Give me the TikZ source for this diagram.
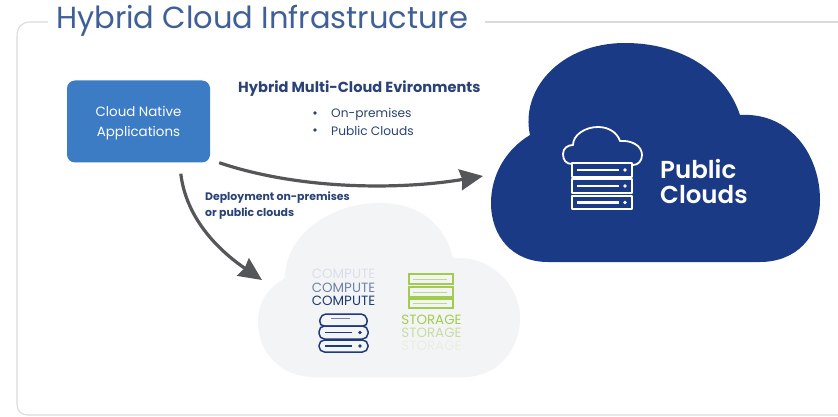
\documentclass[tikz,border=0pt]{standalone}
\usepackage{fontspec}
\setmainfont{Poppins}
\newfontfamily\popmed{Poppins SemiBold}
\usetikzlibrary{arrows.meta}
\definecolor{navy}{HTML}{1B3A86}
\definecolor{inkblue}{HTML}{2A4278}
\definecolor{titleblue}{HTML}{3F5F98}
\definecolor{boxblue}{HTML}{3B7CC4}
\definecolor{arrowgray}{HTML}{55565A}
\definecolor{framegray}{HTML}{DADBDD}
\definecolor{cloudgray}{HTML}{F3F4F5}
\definecolor{limeg}{HTML}{A2CC4E}
\definecolor{limeb}{HTML}{C8DDA2}
\definecolor{limec}{HTML}{EAEEDF}
\definecolor{compa}{HTML}{DCDFE9}
\definecolor{compb}{HTML}{6F82AC}
\definecolor{compc}{HTML}{1F3A7A}
\tikzset{
  x=1pt,y=-1pt,
  head text/.style={font=\fontsize{14.6}{16}\selectfont\bfseries,text=inkblue,inner sep=0pt,anchor=west},
  bullet text/.style={font=\fontsize{12.2}{14}\selectfont,text=inkblue,inner sep=0pt,anchor=west},
  small text/.style={font=\fontsize{10.9}{16}\selectfont\bfseries,text=inkblue,inner sep=0pt,align=left,anchor=north west},
  stack text/.style={font=\fontsize{13.4}{14}\selectfont,inner sep=0pt},
  flow/.style={arrowgray,line width=3.2pt,-{Stealth[length=23pt,width=21pt,inset=2pt]}},
  frame line/.style={framegray,line width=1.1pt},
  white icon/.style={white,line width=1.8pt,line join=round},
  navy icon/.style={compc,line width=1.5pt,line join=round},
  lime icon/.style={limeg,line width=1.5pt},
}
\begin{document}
\begin{tikzpicture}
\useasboundingbox (0,0) rectangle (838,417);
\fill[white] (0,0) rectangle (838,417);
% frame
\draw[frame line] (48,22) -- (30,22) .. controls (22,22) and (17,27) .. (17,36) -- (17,404) .. controls (17,411) and (21,415) .. (28,415) -- (838,415);
\draw[frame line] (485,22) -- (838,22);
\node[anchor=west,inner sep=0pt,text=titleblue,font=\fontsize{30.5}{32}\selectfont] (title) at (56,21) {Hybrid Cloud Infrastructure};
% public cloud
\fill[navy] (548,262)
  .. controls (512,262) and (491,236) .. (491,203)
  .. controls (491,176) and (505,150) .. (530,135)
  .. controls (520,90) and (560,43) .. (625,43)
  .. controls (680,43) and (725,70) .. (740,115)
  .. controls (790,112) and (820,155) .. (820,200)
  .. controls (820,238) and (795,262) .. (760,262) -- cycle;
\coordinate (publicin) at (483,176);
% grey cloud
\fill[cloudgray] (315,377)
  .. controls (280,377) and (258,352) .. (258,322)
  .. controls (258,302) and (268,288) .. (285,278)
  .. controls (285,235) and (330,203) .. (380,203)
  .. controls (420,203) and (445,225) .. (453,258)
  .. controls (490,255) and (520,285) .. (520,318)
  .. controls (520,352) and (495,377) .. (465,377) -- cycle;
\coordinate (grayin) at (262,280);
% app box
\node[fill=boxblue,rounded corners=8pt,minimum width=143pt,minimum height=82pt,inner sep=0pt] (app) at (138.5,121.5) {};
\node[inner sep=0pt,align=center,text=white,font=\fontsize{13.4}{20}\selectfont] (apptext) at (138.5,123) {Cloud Native\\Applications};
% labels
\node[head text] (env) at (238,89) {Hybrid Multi-Cloud Evironments};
\node[bullet text] (b1) at (331,114) {On-premises};
\node[bullet text] (b2) at (331,131) {Public Clouds};
\fill[inkblue] (315,113) circle (1.8) (315,130) circle (1.8);
\node[small text] (dep) at (205,192) {Deployment on-premises\\or public clouds};
% connectors
\coordinate (appa) at ([shift={(9,0)}]app.south east);
\coordinate (appb) at ([shift={(114,11)}]app.south west);
\draw[flow] (appa) .. controls (300,190) and (400,190) .. (publicin);
\draw[flow] (appb) .. controls (186,218) and (218,250) .. (grayin);
% public icon
\draw[white icon] (572,164) .. controls (566,164) and (563,160) .. (563,154)
  .. controls (563,148) and (568,145) .. (573,145)
  .. controls (573,135) and (585,127) .. (598,127)
  .. controls (608,127) and (617,132) .. (620,141)
  .. controls (632,140) and (642,146) .. (642,155)
  .. controls (642,161) and (638,165) .. (633,165);
\foreach \ya/\yb in {163/177,179/193,196/209}{
  \draw[white icon] (572,\ya) rectangle (632,\yb);
  \draw[white,line width=2.4pt] (577,{(\ya+\yb)/2}) -- (619,{(\ya+\yb)/2});
  \fill[white] (625,{(\ya+\yb)/2}) circle (1.9);
}
\node[anchor=west,inner sep=0pt,text=white,font=\fontsize{24.5}{25}\selectfont\popmed,align=left] (pub) at (660,181.5) {Public\\Clouds};
% compute
\node[stack text,text=compa] (c1) at (343.5,274) {COMPUTE};
\node[stack text,text=compb] (c2) at (343.5,288) {COMPUTE};
\node[stack text,text=compc] (c3) at (343.5,300.5) {COMPUTE};
\draw[navy icon,rounded corners=5pt] (319,326) -- (321,314) -- (366,314) -- (368,326) -- cycle;
\draw[navy icon,rounded corners=5.5pt] (319,326) rectangle (368,339);
\draw[navy icon,rounded corners=5.5pt] (319,340) rectangle (368,352);
\draw[compb,line width=1.3pt] (331,318.5) -- (350,318.5);
\draw[compc,line width=1.3pt] (325,332.5) -- (352,332.5) (325,346) -- (352,346);
\fill[compc] (360,332.5) circle (1.8) (360,346) circle (1.8);
% storage
\foreach \ya/\yb in {274/284,287/297,299/308}{
  \draw[lime icon] (409,\ya) rectangle (453,\yb);
  \draw[limeg!70,line width=1pt] (413,{(\ya+\yb)/2}) -- (447,{(\ya+\yb)/2});
}
\node[stack text,text=limeg] (s1) at (431.5,320) {STORAGE};
\node[stack text,text=limeb] (s2) at (431.5,333) {STORAGE};
\node[stack text,text=limec] (s3) at (431.5,346) {STORAGE};
\end{tikzpicture}
\end{document}
